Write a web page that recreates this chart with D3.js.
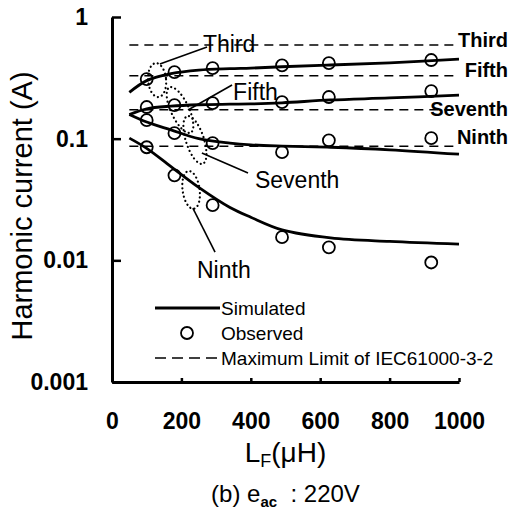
<!DOCTYPE html>
<html lang="en">
<head>
<meta charset="UTF-8">
<title>Harmonic current vs LF</title>
<script src="https://d3js.org/d3.v7.min.js"></script>
<style>
    body { margin: 0; background: #fff; }
    svg text { font-family: "Liberation Sans", Arial, sans-serif; fill: #000; }
</style>
</head>
<body>
<div id="chart"></div>
<script>
    // simulated curves (uH -> A)
    const simX = [50, 100, 170, 250, 340, 400, 490, 630, 800, 1000];
    const simThird   = [0.24, 0.30, 0.342, 0.366, 0.376, 0.38, 0.39, 0.403, 0.42, 0.45];
    const simFifth   = [0.158, 0.176, 0.185, 0.19, 0.192, 0.193, 0.197, 0.208, 0.216, 0.228];
    const simSeventh = [0.158, 0.137, 0.118, 0.100, 0.092, 0.089, 0.087, 0.085, 0.081, 0.0745];
    const simNinth   = [0.101, 0.0832, 0.0589, 0.0398, 0.0272, 0.0226, 0.0178, 0.0153, 0.0143, 0.0136];

    // observed points
    const obsX = [100, 180, 290, 490, 625, 920];
    const obsThird   = [0.309, 0.352, 0.38, 0.40, 0.418, 0.443];
    const obsFifth   = [0.182, 0.189, 0.196, 0.20, 0.22, 0.246];
    const obsSeventh = [0.142, 0.111, 0.092, 0.0774, 0.097, 0.101];
    const obsNinth   = [0.085, 0.050, 0.0284, 0.0155, 0.0128, 0.0096];

    // IEC61000-3-2 limits
    const limitNames = ["Third", "Fifth", "Seventh", "Ninth"];
    const limitValues = [0.588, 0.329, 0.173, 0.0865];
    const limitRange = [50, 985];

    const xTicks = [0, 200, 400, 600, 800, 1000];
    const yTicks = [0.001, 0.01, 0.1, 1];

    const width = 510, height = 511;
    const svg = d3.select("#chart").append("svg")
        .attr("width", width).attr("height", height);

    const x = d3.scaleLinear().domain([0, 1000]).range([112, 459]);
    const y = d3.scaleLog().domain([0.001, 1]).range([382, 17]);

    // axes
    const yAxis = svg.append("g")
        .attr("transform", `translate(${x(0)},0)`)
        .call(d3.axisLeft(y).tickValues(yTicks).tickFormat(d3.format("~g"))
            .tickSize(-9).tickSizeOuter(0).tickPadding(24));
    yAxis.selectAll("text").style("font-size", "23px").style("font-weight", "bold");

    const xAxis = svg.append("g")
        .attr("transform", `translate(0,${y(0.001)})`)
        .call(d3.axisBottom(x).tickValues(xTicks).tickFormat(d3.format("d"))
            .tickSize(-4).tickSizeOuter(0).tickPadding(31));
    xAxis.selectAll("text").style("font-size", "23px").style("font-weight", "bold");

    svg.selectAll(".domain").attr("stroke-width", 3);
    svg.selectAll(".tick line").attr("stroke-width", 2.5);

    // limit lines
    svg.selectAll(".limit")
        .data(limitValues)
        .join("line")
        .attr("x1", x(limitRange[0])).attr("x2", x(limitRange[1]))
        .attr("y1", d => y(d)).attr("y2", d => y(d))
        .attr("stroke", "#000").attr("stroke-width", 1.5)
        .attr("stroke-dasharray", "9,6");

    const limitDy = [2, 1, 6, -2];
    svg.selectAll(".limitLabel")
        .data(limitNames)
        .join("text")
        .attr("x", x(1000) + 49)
        .attr("y", (d, i) => y(limitValues[i]) + limitDy[i])
        .attr("text-anchor", "end")
        .style("font-size", "20px").style("font-weight", "bold")
        .text(d => d);

    // simulated curves
    const line = d3.line()
        .x((d, i) => x(simX[i]))
        .y(d => y(d))
        .curve(d3.curveCatmullRom.alpha(0.5));

    [simThird, simFifth, simSeventh, simNinth].forEach(s => {
        svg.append("path")
            .datum(s)
            .attr("d", line)
            .attr("fill", "none")
            .attr("stroke", "#000")
            .attr("stroke-width", 2.8);
    });

    // observed circles
    [obsThird, obsFifth, obsSeventh, obsNinth].forEach(s => {
        svg.append("g").selectAll("circle")
            .data(s)
            .join("circle")
            .attr("cx", (d, i) => x(obsX[i]))
            .attr("cy", d => y(d))
            .attr("r", 6)
            .attr("fill", "none")
            .attr("stroke", "#000")
            .attr("stroke-width", 1.8);
    });

    // dotted ellipses with leader lines and labels
    const notes = [
        { name: "Third",   cx: 130, cy: 0.303,  rx: 9,   ry: 17, rot: -5,
          from: [138, 0.411], to: [274, 0.567], label: [262, 0.515] },
        { name: "Fifth",   cx: 196, cy: 0.172,  rx: 9,   ry: 25, rot: -25,
          from: [219, 0.172], to: [346, 0.276], label: [349, 0.208] },
        { name: "Seventh", cx: 239, cy: 0.0975, rx: 9,   ry: 25, rot: -18,
          from: [259, 0.0762], to: [392, 0.0522], label: [412, 0.0393] },
        { name: "Ninth",   cx: 228, cy: 0.0379, rx: 8.5, ry: 19, rot: -8,
          from: [233, 0.0269], to: [297, 0.0117], label: [245, 0.00716] }
    ];

    notes.forEach(n => {
        svg.append("ellipse")
            .attr("transform", `translate(${x(n.cx)},${y(n.cy)}) rotate(${n.rot})`)
            .attr("rx", n.rx).attr("ry", n.ry)
            .attr("fill", "none")
            .attr("stroke", "#000")
            .attr("stroke-width", 2.2)
            .attr("stroke-linecap", "round")
            .attr("stroke-dasharray", "0.1,4.2");
        svg.append("line")
            .attr("x1", x(n.from[0])).attr("y1", y(n.from[1]))
            .attr("x2", x(n.to[0])).attr("y2", y(n.to[1]))
            .attr("stroke", "#000").attr("stroke-width", 1.6);
        svg.append("text")
            .attr("x", x(n.label[0])).attr("y", y(n.label[1]))
            .style("font-size", "23px")
            .text(n.name);
    });

    // legend
    const lg = svg.append("g").attr("transform", "translate(155,0)");
    lg.append("line").attr("x1", 0).attr("x2", 65).attr("y1", 308).attr("y2", 308)
        .attr("stroke", "#000").attr("stroke-width", 2.8);
    lg.append("circle").attr("cx", 32).attr("cy", 333).attr("r", 6)
        .attr("fill", "none").attr("stroke", "#000").attr("stroke-width", 1.8);
    lg.append("line").attr("x1", 0).attr("x2", 65).attr("y1", 358).attr("y2", 358)
        .attr("stroke", "#000").attr("stroke-width", 1.5).attr("stroke-dasharray", "11,6");
    const legendTexts = ["Simulated", "Observed", "Maximum Limit of IEC61000-3-2"];
    lg.selectAll(".lt")
        .data(legendTexts)
        .join("text")
        .attr("x", 66)
        .attr("y", (d, i) => 315 + i * 25)
        .style("font-size", "19px")
        .text(d => d);

    // axis titles
    svg.append("text")
        .attr("transform", "translate(32,206) rotate(-90)")
        .attr("text-anchor", "middle")
        .style("font-size", "29px")
        .text("Harmonic current (A)");

    const xt = svg.append("text")
        .attr("x", (x(0) + x(1000)) / 2)
        .attr("y", 462)
        .attr("text-anchor", "middle")
        .style("font-size", "28px");
    xt.append("tspan").text("L");
    xt.append("tspan").attr("dy", 5).style("font-size", "18px").text("F");
    xt.append("tspan").attr("dy", -5).text("(\u03bcH)");

    const cap = svg.append("text")
        .attr("x", (x(0) + x(1000)) / 2)
        .attr("y", 502)
        .attr("text-anchor", "middle")
        .style("font-size", "24px");
    cap.append("tspan").text("(b) e");
    cap.append("tspan").attr("dy", 5).style("font-size", "15px").style("font-weight", "bold").text("ac");
    cap.append("tspan").attr("dy", -5).text(" \u00a0: 220V");
</script>
</body>
</html>
